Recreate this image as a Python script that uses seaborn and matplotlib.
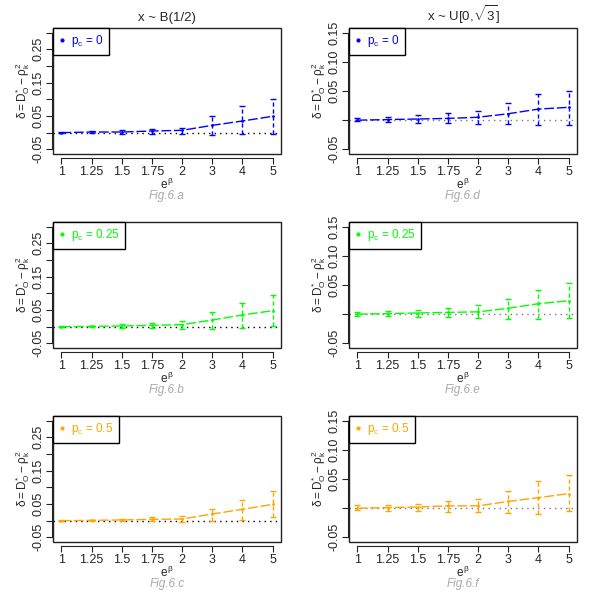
import numpy as np
import matplotlib
matplotlib.use("Agg")
import matplotlib.pyplot as plt
import seaborn as sns
from matplotlib.lines import Line2D
from matplotlib.patches import Rectangle

sns.set_style("ticks")
plt.rcParams['font.family'] = ['Liberation Sans', 'DejaVu Sans']
plt.rcParams['mathtext.fontset'] = 'custom'
plt.rcParams['mathtext.rm'] = 'Liberation Sans'
plt.rcParams['mathtext.it'] = 'Liberation Sans'
plt.rcParams['mathtext.bf'] = 'Liberation Sans:bold'

# --- data ---
x_labels = ['1', '1.25', '1.5', '1.75', '2', '3', '4', '5']

# x ~ B(1/2)
mean_a = [0.000, 0.002, 0.002, 0.005, 0.007, 0.022, 0.035, 0.049]
lo_a   = [-0.001, -0.002, -0.003, -0.004, -0.005, -0.008, -0.005, -0.004]
hi_a   = [0.002, 0.005, 0.008, 0.012, 0.015, 0.050, 0.079, 0.101]
mean_b = [0.000, 0.001, 0.002, 0.004, 0.006, 0.020, 0.035, 0.048]
lo_b   = [-0.001, -0.001, -0.003, -0.004, -0.006, -0.007, -0.004, 0.002]
hi_b   = [0.001, 0.002, 0.008, 0.012, 0.016, 0.044, 0.072, 0.095]
mean_c = [0.000, 0.001, 0.002, 0.004, 0.005, 0.020, 0.034, 0.049]
lo_c   = [-0.001, -0.001, -0.001, -0.002, -0.003, 0.000, 0.002, 0.011]
hi_c   = [0.001, 0.002, 0.005, 0.012, 0.014, 0.036, 0.062, 0.088]

# x ~ U[0, sqrt(3)]
mean_d = [0.000, 0.001, 0.002, 0.003, 0.005, 0.011, 0.019, 0.022]
lo_d   = [-0.002, -0.003, -0.005, -0.005, -0.006, -0.007, -0.009, -0.008]
hi_d   = [0.003, 0.005, 0.009, 0.013, 0.016, 0.029, 0.045, 0.050]
mean_e = [0.000, 0.001, 0.002, 0.003, 0.004, 0.010, 0.018, 0.023]
lo_e   = [-0.003, -0.003, -0.004, -0.005, -0.007, -0.008, -0.008, -0.007]
hi_e   = [0.0045, 0.006, 0.008, 0.011, 0.016, 0.026, 0.041, 0.053]
mean_f = [0.000, 0.001, 0.002, 0.004, 0.004, 0.0115, 0.018, 0.025]
lo_f   = [-0.0035, -0.004, -0.0046, -0.006, -0.007, -0.0086, -0.0098, -0.0057]
hi_f   = [0.0046, 0.006, 0.008, 0.013, 0.015, 0.029, 0.047, 0.057]

pc_values = ['0', '0.25', '0.5']
cols = ['#0000FF', '#00FF00', '#FFA500']
titles = ['x ~ B(1/2)', r'x ~ U[0,$\sqrt{3}$]']
fig_tags = [['Fig.6.a', 'Fig.6.b', 'Fig.6.c'], ['Fig.6.d', 'Fig.6.e', 'Fig.6.f']]

panels = [[(mean_a, lo_a, hi_a), (mean_b, lo_b, hi_b), (mean_c, lo_c, hi_c)],
          [(mean_d, lo_d, hi_d), (mean_e, lo_e, hi_e), (mean_f, lo_f, hi_f)]]

# --- layout (pixel boxes as in the reference) ---
W, H = 600, 599
fig = plt.figure(figsize=(W / 100, H / 100), dpi=100)
col_left = [53, 349]
ax_w = 228
row_top = [28, 222, 416]
ax_h = 126

xpos = np.arange(1, len(x_labels) + 1)

for icol in range(2):
    for irow in range(3):
        mean, lo, hi = [np.array(v) for v in panels[icol][irow]]
        c = cols[irow]
        ax = fig.add_axes([col_left[icol] / W, 1 - (row_top[irow] + ax_h) / H,
                           ax_w / W, ax_h / H])

        # R style: axis lines set off from the box (before tick setup,
        # set_position resets the ticks)
        for side in ['top', 'right']:
            ax.spines[side].set_visible(False)
        ax.spines['left'].set_position(('outward', 1))
        ax.spines['bottom'].set_position(('outward', 3))

        # zero reference line
        ax.axhline(0, ls=(0, (1, 3)), color='black' if icol == 0 else '#777777', lw=1)

        # mean line
        sns.lineplot(x=xpos, y=mean, ax=ax, color=c, lw=1,
                     linestyle=(0, (7, 2)), marker='o', markersize=2,
                     markeredgewidth=0)

        # interval bars
        eb = ax.errorbar(xpos, mean, yerr=[mean - lo, hi - mean], fmt='none',
                         ecolor=c, elinewidth=1, capsize=2, capthick=1)
        eb[2][0].set_linestyle((0, (3, 2)))

        # axes
        ax.set_xlim(0.72, 8.28)
        if icol == 0:
            ax.set_ylim(-0.064, 0.314)
            yt = [-0.05, 0, 0.05, 0.10, 0.15, 0.20, 0.25, 0.30]
            yl = ['-0.05', '', '0.05', '', '0.15', '', '0.25', '']
        else:
            ax.set_ylim(-0.058, 0.158)
            yt = [-0.05, 0, 0.05, 0.10, 0.15]
            yl = ['-0.05', '', '0.05', '0.10', '0.15']
        ax.spines['left'].set_bounds(yt[0], yt[-1])
        ax.spines['bottom'].set_bounds(1, 8)
        ax.set_yticks(yt)
        ax.set_yticklabels(yl, fontsize=9)
        ax.set_xticks(xpos)
        ax.set_xticklabels(x_labels, fontsize=9)
        ax.tick_params(length=4, width=0.8, pad=1.5, color='#222222')
        ax.tick_params(axis='y', labelrotation=90, pad=0.8)
        for t in ax.get_yticklabels():
            t.set_va('center')
        ax.add_patch(Rectangle((0, 0), 1, 1, transform=ax.transAxes, fill=False,
                               lw=1, edgecolor='#222222', clip_on=False, zorder=5))

        ax.set_xlabel(r'$e^{\beta}$', fontsize=8.5, labelpad=-1)
        ax.set_ylabel(r'$\delta = D_O^{*} - \rho_k^2$', fontsize=8.5, labelpad=1)
        ax.text(0.5, -0.335, fig_tags[icol][irow], transform=ax.transAxes,
                ha='center', va='center', fontsize=8.5, style='italic', color='#A8A8A8')

        # legend
        handle = Line2D([0], [0], color=c, lw=0, marker='o', markersize=2)
        leg = ax.legend([handle], [r'$p_c$ = ' + pc_values[irow]], loc='upper left',
                        bbox_to_anchor=(0, 1), borderaxespad=0, fancybox=False,
                        edgecolor='black', framealpha=1, fontsize=8.5,
                        handlelength=0.7, handletextpad=0.4, borderpad=0.45)
        leg.get_frame().set_linewidth(1)
        for t in leg.get_texts():
            t.set_color(c)

        if irow == 0:
            ax.set_title(titles[icol], fontsize=9.5, pad=5)

plt.savefig('out.png', dpi=100)
